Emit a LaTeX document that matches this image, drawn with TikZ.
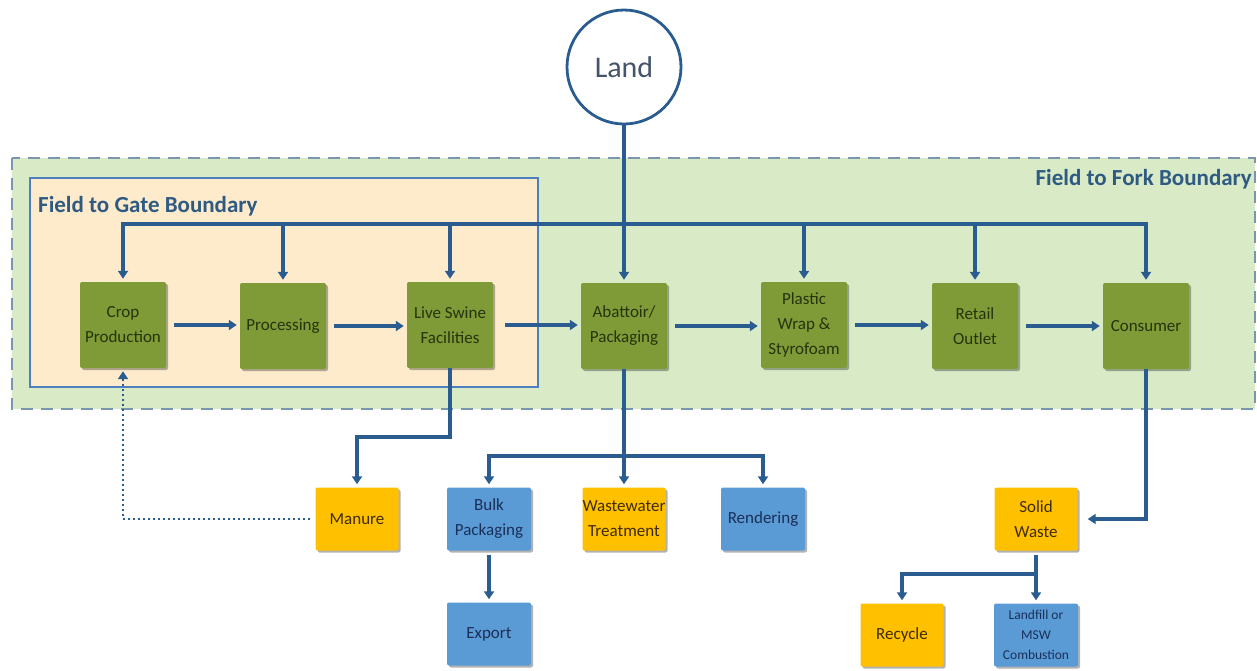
\documentclass[tikz,border=0pt]{standalone}
\usepackage{fontspec}
\setmainfont{Carlito}
\usetikzlibrary{arrows.meta,shadows,calc}
\definecolor{boxgreen}{HTML}{7E9B37}
\definecolor{boxorange}{HTML}{FFC000}
\definecolor{boxblue}{HTML}{5B9BD5}
\definecolor{txtgreen}{HTML}{26330C}
\definecolor{txtorange}{HTML}{3F2B00}
\definecolor{txtblue}{HTML}{1A2F58}
\definecolor{arrowc}{HTML}{2B5C8F}
\definecolor{labelc}{HTML}{2F5B82}
\definecolor{forkfill}{HTML}{D8EAC6}
\definecolor{forkdraw}{HTML}{7A96AE}
\definecolor{gatefill}{HTML}{FDEBCC}
\definecolor{gatedraw}{HTML}{4F7FC0}
\definecolor{landtxt}{HTML}{44546A}
\begin{document}
\begin{tikzpicture}[x=1pt,y=-1pt,
  box/.style={rectangle, rounded corners=2pt, inner sep=0pt, align=center,
    font=\fontsize{17}{25}\selectfont,
    drop shadow={shadow xshift=2pt,shadow yshift=-2pt,opacity=0.3,fill=black}},
  gbox/.style={box, fill=boxgreen, text=txtgreen, minimum width=86pt, minimum height=86pt},
  obox/.style={box, fill=boxorange, text=txtorange, minimum width=83pt, minimum height=63pt},
  bbox/.style={box, fill=boxblue, text=txtblue, minimum width=84pt, minimum height=63pt},
  ln/.style={draw=arrowc, line width=3.4pt},
  arr/.style={ln, -{Triangle[length=8pt,width=10pt]}, shorten >=3pt},
  darr/.style={ln, {Triangle[length=8pt,width=10pt]}-{Triangle[length=8pt,width=10pt]}, shorten >=3pt, shorten <=3pt},
  blabel/.style={font=\fontsize{23}{28}\selectfont\bfseries, text=labelc, inner sep=0pt}
]
\useasboundingbox (0,0) rectangle (1257,670);

% boundaries
\path[fill=forkfill, draw=forkdraw, line width=2.5pt, dash pattern=on 12pt off 8pt] (12,158) rectangle (1255,409);
\path[fill=gatefill, draw=gatedraw, line width=2pt] (30,178) rectangle (538,387);
\node[blabel, anchor=base west] (gatelbl) at (38,212) {Field to Gate Boundary};
\node[blabel, anchor=base east] (forklbl) at (1252,185) {Field to Fork Boundary};

% land
\node[circle, draw=arrowc, line width=2.8pt, fill=white, minimum size=114pt, inner sep=0pt,
  text=landtxt, font=\fontsize{30}{34}\selectfont] (land) at (624,67) {Land};

% main chain
\node[gbox] (crop) at (123,325) {Crop\\Production};
\node[gbox] (proc) at (283,326) {Processing};
\node[gbox] (swine) at (450,325) {Live Swine\\Facilities};
\node[gbox] (abat) at (624,326) {Abattoir/\\Packaging};
\node[gbox] (plast) at (804,325) {Plastic\\Wrap \&\\Styrofoam};
\node[gbox] (retail) at (975,326) {Retail\\Outlet};
\node[gbox] (cons) at (1146,326) {Consumer};

% bottom boxes
\node[obox] (manure) at (357,519) {Manure};
\node[bbox] (bulk) at (489,519) {Bulk\\Packaging};
\node[obox] (waste) at (624,519) {Wastewater\\Treatment};
\node[bbox] (rend) at (763,519) {Rendering};
\node[bbox] (export) at (489,634) {Export};
\node[obox] (solid) at (1036,519) {Solid\\Waste};
\node[obox] (recyc) at (902,635) {Recycle};
\node[bbox, font=\fontsize{13.5}{20}\selectfont] (landf) at (1036,635) {Landfill or\\MSW\\Combustion};

% coordinates for buses
\coordinate (bus) at (0,224);
\coordinate (bus2) at (0,456);
\coordinate (bus3) at (0,574);
\coordinate (mel) at (0,437);

% land to abattoir
\draw[arr] (land.south) -- (abat.north);

% top bus
\draw[darr] (crop.north) -- (crop.north |- bus) -- (cons.north |- bus) -- (cons.north);
\draw[arr] (proc.north |- bus) -- (proc.north);
\draw[arr] (swine.north |- bus) -- (swine.north);
\draw[arr] (plast.north |- bus) -- (plast.north);
\draw[arr] (retail.north |- bus) -- (retail.north);

% horizontal chain
\draw[arr, shorten <=8pt] (crop.east) -- (proc.west |- crop.east);
\draw[arr, shorten <=8pt] (proc.east) -- (swine.west |- proc.east);
\draw[arr, shorten <=12pt] (swine.east) -- (abat.west |- swine.east);
\draw[arr, shorten <=8pt] (abat.east) -- (plast.west |- abat.east);
\draw[arr, shorten <=8pt] (plast.east) -- (retail.west |- plast.east);
\draw[arr, shorten <=8pt] (retail.east) -- (cons.west |- retail.east);

% swine to manure
\draw[arr] (swine.south) -- (swine.south |- mel) -| (manure.north);

% abattoir outputs
\draw[arr] (abat.south) -- (waste.north);
\draw[darr] (bulk.north) -- (bulk.north |- bus2) -- (rend.north |- bus2) -- (rend.north);
\draw[arr, shorten <=4pt] (bulk.south) -- (export.north);

% consumer to solid waste
\draw[arr, shorten >=10pt] (cons.south) |- (solid.east);
\draw[arr, shorten <=4pt] (solid.south) -- (landf.north);
\draw[arr] (solid.south |- bus3) -| (recyc.north);

% manure back to crop (dotted)
\draw[draw=arrowc, line width=2.2pt, dash pattern=on 2pt off 3pt, -{Triangle[length=8pt,width=10pt]},
  shorten >=3pt, shorten <=5pt] (manure.west) -| (crop.south);
\end{tikzpicture}
\end{document}
